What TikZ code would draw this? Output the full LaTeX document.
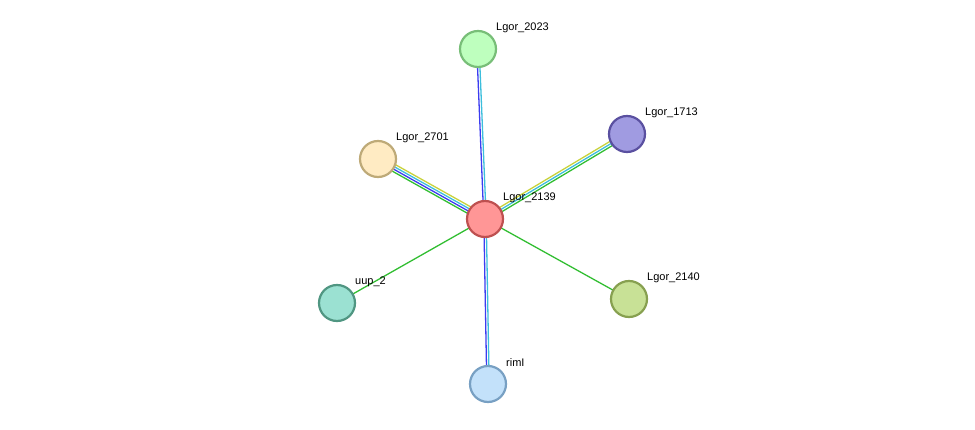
\documentclass[tikz,border=0pt]{standalone}
\usepackage{fontspec}
\setmainfont{Liberation Sans}
\usetikzlibrary{calc}
\definecolor{eY}{RGB}{200,210,60}
\definecolor{eC}{RGB}{60,190,220}
\definecolor{eB}{RGB}{60,60,240}
\definecolor{eG}{RGB}{50,190,50}
\tikzset{
  prot/.style={circle,minimum size=36pt,inner sep=0pt,line width=2.2pt},
  lab/.style={anchor=west,font=\fontsize{11}{13}\selectfont,inner sep=0pt},
  ed/.style={line width=1.3pt}
}
\newcommand{\edg}[4]{\draw[ed,#4] ($(#1)!#3!90:(#2)$) -- ($(#2)!#3!-90:(#1)$);}
\begin{document}
\begin{tikzpicture}[x=1pt,y=-1pt]
\useasboundingbox (0,0) rectangle (975,430);
\coordinate (c) at (485,219);
\coordinate (a23) at (478,49);
\coordinate (a13) at (627,134);
\coordinate (a01) at (378,159);
\coordinate (uu) at (337,303);
\coordinate (a40) at (629,299);
\coordinate (ri) at (488,384);
% edges
\edg{c}{a23}{-1.2pt}{eC}\edg{c}{a23}{1.2pt}{eB}
\edg{c}{ri}{1.2pt}{eC}\edg{c}{ri}{-1.2pt}{eB}
\edg{c}{a01}{-3.6pt}{eY}\edg{c}{a01}{-1.2pt}{eC}\edg{c}{a01}{1.2pt}{eB}\edg{c}{a01}{3.6pt}{eG}
\edg{c}{a13}{2.4pt}{eY}\edg{c}{a13}{0pt}{eC}\edg{c}{a13}{-2.4pt}{eG}
\draw[ed,eG] (c) -- (uu);
\draw[ed,eG] (c) -- (a40);
% nodes
\node[prot,fill={rgb,255:red,255;green,150;blue,150},draw={rgb,255:red,190;green,80;blue,80}] (n39) at (c) {};
\node[prot,fill={rgb,255:red,190;green,255;blue,190},draw={rgb,255:red,120;green,190;blue,120}] (n23) at (a23) {};
\node[prot,fill={rgb,255:red,160;green,155;blue,225},draw={rgb,255:red,90;green,80;blue,160}] (n13) at (a13) {};
\node[prot,fill={rgb,255:red,255;green,235;blue,195},draw={rgb,255:red,190;green,170;blue,120}] (n01) at (a01) {};
\node[prot,fill={rgb,255:red,155;green,225;blue,210},draw={rgb,255:red,80;green,150;blue,130}] (nuu) at (uu) {};
\node[prot,fill={rgb,255:red,200;green,225;blue,150},draw={rgb,255:red,135;green,160;blue,80}] (n40) at (a40) {};
\node[prot,fill={rgb,255:red,195;green,225;blue,250},draw={rgb,255:red,120;green,160;blue,195}] (nri) at (ri) {};
% labels
\node[lab] (l39) at ($(c)+(18,-21)$) {Lgor\_2139};
\node[lab] (l23) at ($(a23)+(18,-21)$) {Lgor\_2023};
\node[lab] (l13) at ($(a13)+(18,-21)$) {Lgor\_1713};
\node[lab] (l01) at ($(a01)+(18,-21)$) {Lgor\_2701};
\node[lab] (luu) at ($(uu)+(18,-21)$) {uup\_2};
\node[lab] (l40) at ($(a40)+(18,-21)$) {Lgor\_2140};
\node[lab] (lri) at ($(ri)+(18,-21)$) {rimI};
\end{tikzpicture}
\end{document}
